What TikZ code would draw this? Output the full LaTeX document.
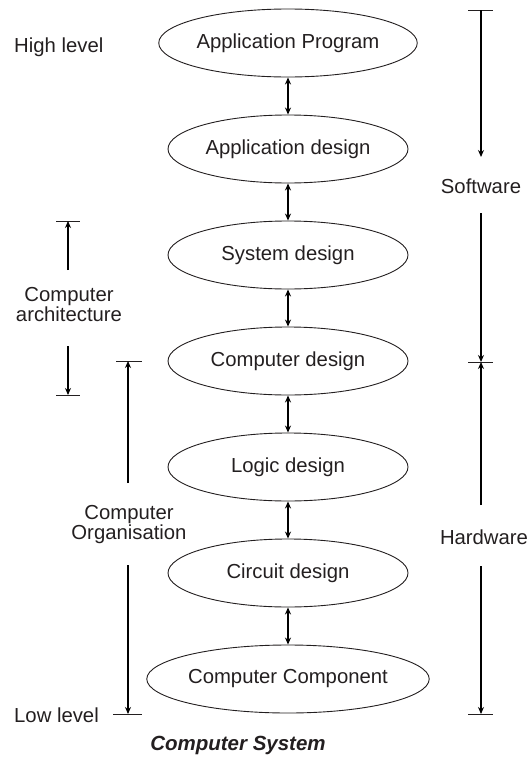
\documentclass[tikz,border=0pt]{standalone}
\usepackage{fontspec}
\setmainfont{Liberation Sans}
\usetikzlibrary{arrows.meta,shapes.geometric}
\definecolor{ink}{HTML}{231F20}
\begin{document}
\begin{tikzpicture}[x=1pt,y=-1pt,
  lvl/.style={ellipse,draw=ink,line width=0.9pt,minimum width=240pt,minimum height=68pt,inner sep=0pt,text=ink,font=\fontsize{20.3}{23}\selectfont},
  lbl/.style={text=ink,font=\fontsize{20.3}{23}\selectfont,inner sep=0pt,align=center},
  dbl/.style={line width=1.6pt,{Stealth[length=7pt,width=6pt]}-{Stealth[length=7pt,width=6pt]}},
  one/.style={line width=1.6pt,-{Stealth[length=7pt,width=6pt]}},
  tick/.style={line width=0.9pt,draw=ink}]
\useasboundingbox (0,0) rectangle (527,763);
% levels
\node[lvl] (ap) at (288,43)  {Application Program};
\node[lvl] (ad) at (288,149) {Application design};
\node[lvl] (sd) at (288,255) {System design};
\node[lvl] (cd) at (288,361) {Computer design};
\node[lvl] (ld) at (288,467) {Logic design};
\node[lvl] (ci) at (288,573) {Circuit design};
\node[lvl] (cc) at (288,679) {Computer Component};
\foreach \a/\b in {ap/ad,ad/sd,sd/cd,cd/ld,ld/ci,ci/cc}
  \draw[dbl] (\a.south) -- (\b.north);
% left labels
\node[lbl,anchor=west] (hl) at (14,47) {High level};
\node[lbl,anchor=west] (ll) at (14,715) {Low level};
% computer architecture
\coordinate (at1) at (56,221); \coordinate (at2) at (80,221);
\coordinate (ab1) at (56,395); \coordinate (ab2) at (80,395);
\coordinate (atop) at (68,221); \coordinate (abot) at (68,395);
\draw[tick] (at1) -- (at2);
\draw[tick] (ab1) -- (ab2);
\node[lbl] (arch) at (69,305) {Computer\\[-3pt]architecture};
\coordinate (as1) at (68,270); \coordinate (as2) at (68,346);
\draw[one] (as1) -- (atop);
\draw[one] (as2) -- (abot);
% computer organisation
\coordinate (ot1) at (116,361); \coordinate (ot2) at (142,361);
\coordinate (ob1) at (113,714); \coordinate (ob2) at (142,714);
\coordinate (otop) at (128,361); \coordinate (obot) at (128,714);
\draw[tick] (ot1) -- (ot2);
\draw[tick] (ob1) -- (ob2);
\node[lbl] (org) at (129,525) {Computer\\[-3pt]Organisation};
\coordinate (os1) at (128,483); \coordinate (os2) at (128,565);
\draw[one] (os1) -- (otop);
\draw[one] (os2) -- (obot);
% software / hardware
\coordinate (st1) at (468,10); \coordinate (st2) at (493,10);
\coordinate (mt1) at (468,362); \coordinate (mt2) at (493,362);
\coordinate (bt1) at (468,714); \coordinate (bt2) at (493,714);
\coordinate (stop) at (481,10); \coordinate (smid) at (481,362); \coordinate (hbot) at (481,714);
\draw[tick] (st1) -- (st2);
\draw[tick] (mt1) -- (mt2);
\draw[tick] (bt1) -- (bt2);
\node[lbl] (sw) at (481,186) {Software};
\node[lbl] (hw) at (484,537) {Hardware};
\coordinate (s1) at (481,157); \coordinate (s2) at (481,213);
\coordinate (h1) at (481,505); \coordinate (h2) at (481,566);
\draw[one] (stop) -- (s1);
\draw[one] (s2) -- (smid);
\draw[one] (h1) -- (smid);
\draw[one] (h2) -- (hbot);
% caption
\node[lbl,font=\fontsize{20.5}{23}\selectfont\bfseries\itshape] (cap) at (238,745) {Computer System};
\end{tikzpicture}
\end{document}
